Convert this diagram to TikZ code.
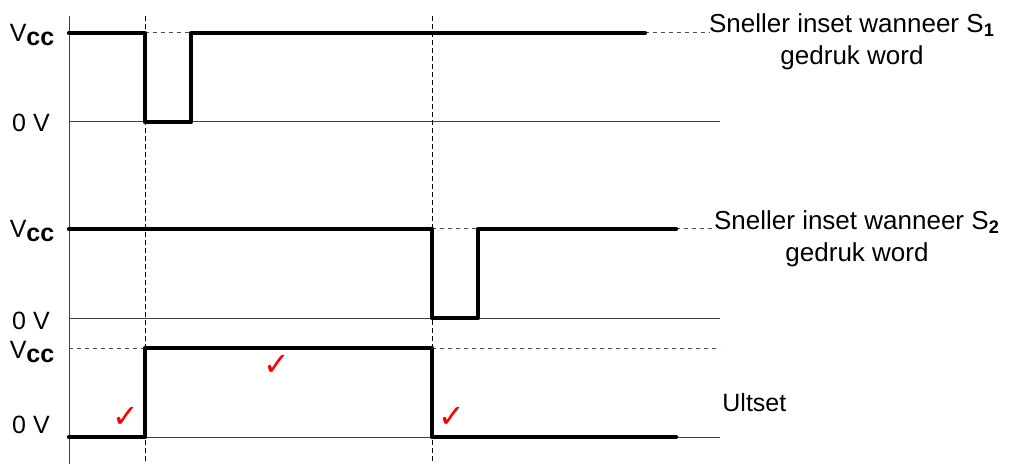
\documentclass[tikz,border=0pt]{standalone}
\usepackage{fontspec}
\setmainfont{Liberation Sans}
\newfontfamily\symfont{DejaVu Sans}
\newcommand{\vcc}{V\raisebox{-0.35ex}{\bfseries cc}}
\begin{document}
\begin{tikzpicture}[x=0.5pt,y=-0.5pt,
  signal/.style={line width=2.2pt,line join=round,line cap=round},
  level/.style={line width=0.5pt,black!75},
  guide/.style={line width=0.5pt,black!70,dash pattern=on 2pt off 2pt},
  timeline/.style={line width=0.5pt,black,dash pattern=on 2.5pt off 1.5pt},
  lbl/.style={font=\fontsize{12.5}{16}\selectfont,inner sep=0pt},
  note/.style={font=\fontsize{13}{16}\selectfont,inner sep=0pt,align=center,anchor=north},
  tick/.style={text=red,font=\symfont\fontsize{16}{16}\selectfont,inner sep=0pt}]
  \useasboundingbox (0,0) rectangle (1010,464);

  % axis and time marks
  \draw[level] (69,16) -- (69,464);
  \draw[timeline] (145,16) -- (145,464);
  \draw[timeline] (432,16) -- (432,464);

  % S1
  \draw[level] (69,122) -- (720,122);
  \draw[guide] (145,33) -- (191,33) (645,33) -- (710,33);
  \draw[signal] (69,33) -- (145,33) -- (145,122) -- (191,122) -- (191,33) -- (645,33);
  \node[lbl]		(vcc1)	at (32,35)	{\vcc};
  \node[lbl]		(zero1)	at (31,123)	{0 V};
  \node[note]	(s1)	at (852,13)	{Sneller inset wanneer S\textsubscript{\textbf{1}}\\ gedruk word};

  % S2
  \draw[level] (69,318) -- (720,318);
  \draw[guide] (432,229) -- (478,229) (676,229) -- (715,229);
  \draw[signal] (69,229) -- (432,229) -- (432,318) -- (478,318) -- (478,229) -- (676,229);
  \node[lbl]		(vcc2)	at (32,231)	{\vcc};
  \node[lbl]		(zero2)	at (31,321)	{0 V};
  \node[note]	(s2)	at (857,210)	{Sneller inset wanneer S\textsubscript{\textbf{2}}\\ gedruk word};

  % uitset
  \draw[level] (69,437) -- (720,437);
  \draw[guide] (69,348) -- (145,348) (432,348) -- (720,348);
  \draw[signal] (69,437) -- (145,437) -- (145,348) -- (432,348) -- (432,437) -- (676,437);
  \node[lbl]		(vcc3)	at (32,352)	{\vcc};
  \node[lbl]		(zero3)	at (31,425)	{0 V};
  \node[lbl,anchor=west]	(out)	at (722,403)	{Ultset};

  \node[tick] (t1) at (126,417) {✓};
  \node[tick] (t2) at (277,365) {✓};
  \node[tick] (t3) at (452,417) {✓};
\end{tikzpicture}
\end{document}
